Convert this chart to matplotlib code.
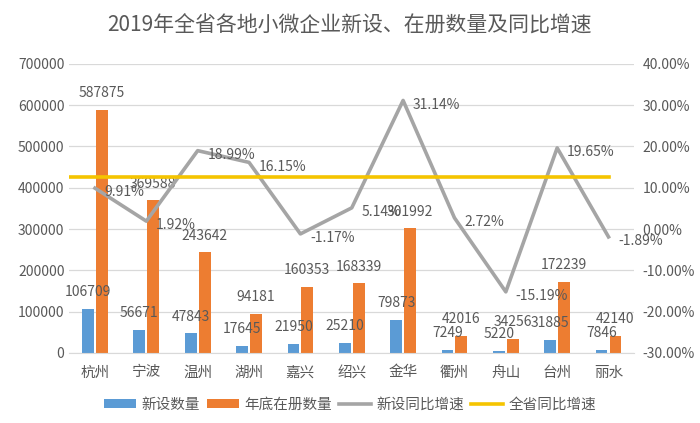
import numpy as np
import matplotlib
matplotlib.use('Agg')
import matplotlib.pyplot as plt
from matplotlib.ticker import FuncFormatter

plt.rcParams['font.family'] = ['Noto Sans CJK SC', 'DejaVu Sans']

# data
cities = ['杭州', '宁波', '温州', '湖州', '嘉兴', '绍兴', '金华', '衢州', '舟山', '台州', '丽水']
new_count = [106709, 56671, 47843, 17645, 21950, 25210, 79873, 7249, 5220, 31885, 7846]
registered = [587875, 369588, 243642, 94181, 160353, 168339, 301992, 42016, 34256, 172239, 42140]
new_growth = [9.91, 1.92, 18.99, 16.15, -1.17, 5.14, 31.14, 2.72, -15.19, 19.65, -1.89]
province_growth = 12.6

title = '2019年全省各地小微企业新设、在册数量及同比增速'
text_color = '#595959'
blue = '#5B9BD5'
orange = '#ED7D31'
gray = '#A5A5A5'
yellow = '#F5C400'

fig = plt.figure(figsize=(7, 4.23), dpi=100)
ax = fig.add_axes([0.099, 0.1655, 0.807, 0.6835])
ax2 = ax.twinx()

x = np.arange(len(cities))
w = 0.23
ax.bar(x - 0.135, new_count, width=w, color=blue, label='新设数量', zorder=2)
ax.bar(x + 0.135, registered, width=w, color=orange, label='年底在册数量', zorder=2)

for i in range(len(cities)):
    ax.annotate(str(new_count[i]), (x[i] - 0.135, new_count[i]), xytext=(0, 7),
                textcoords='offset points', ha='center', va='bottom',
                fontsize=10, color=text_color, zorder=5)
    ax.annotate(str(registered[i]), (x[i] + 0.135, registered[i]), xytext=(0, 7),
                textcoords='offset points', ha='center', va='bottom',
                fontsize=10, color=text_color, zorder=5)

ax.set_ylim(0, 700000)
ax.set_yticks(range(0, 700001, 100000))
ax.set_xlim(-0.5, len(cities) - 0.5)
ax.set_xticks(x)
ax.set_xticklabels(cities, fontsize=10.5, color=text_color)
ax.grid(axis='y', color='#D9D9D9', linewidth=0.9, zorder=0)
ax.set_axisbelow(True)
ax.tick_params(axis='both', which='both', length=0, labelsize=10, labelcolor=text_color)
ax.tick_params(axis='x', pad=9, labelsize=10.5)
for name, spine in ax.spines.items():
    spine.set_visible(name == 'bottom')
ax.spines['bottom'].set_color('#D9D9D9')

ax2.plot(x, new_growth, color=gray, linewidth=2.6, label='新设同比增速', zorder=3)
ax2.plot([-0.6, len(cities) - 1], [province_growth, province_growth], color=yellow,
         linewidth=2.6, label='全省同比增速', zorder=3)
for i, g in enumerate(new_growth):
    ax2.annotate(f'{g:.2f}%', (x[i], g), xytext=(7, -3), textcoords='offset points',
                 ha='left', va='center', fontsize=10, color=text_color, zorder=6)
ax2.set_ylim(-30, 40)
ax2.set_yticks(range(-30, 41, 10))
ax2.yaxis.set_major_formatter(FuncFormatter(lambda v, p: f'{v:.2f}%'))
ax2.tick_params(axis='y', length=0, labelsize=10, labelcolor=text_color, pad=6)
for spine in ax2.spines.values():
    spine.set_visible(False)

h1, l1 = ax.get_legend_handles_labels()
h2, l2 = ax2.get_legend_handles_labels()
fig.legend(h1 + h2, l1 + l2, loc='lower center', bbox_to_anchor=(0.5, -0.005), ncol=4,
           frameon=False, fontsize=10.5, labelcolor=text_color, handlelength=2.2,
           handleheight=0.6, columnspacing=0.5, handletextpad=0.35)

fig.suptitle(title, y=0.965, fontsize=15, color=text_color)

fig.savefig('out.png', dpi=100)
